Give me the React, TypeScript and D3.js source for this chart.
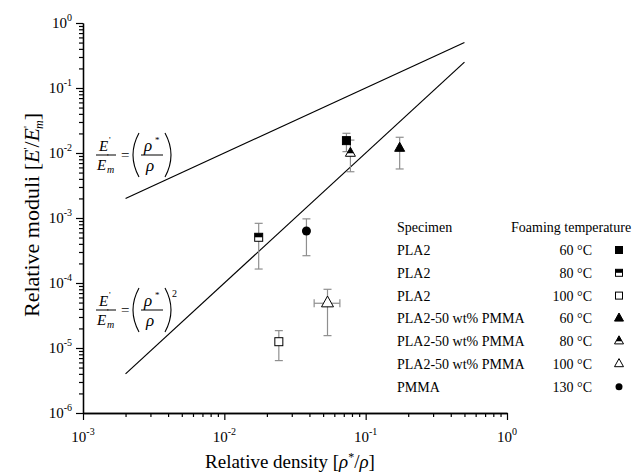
import React, { useRef, useEffect } from 'react';
import * as d3 from 'd3';

// legend / series
const specimens = ['PLA2', 'PLA2', 'PLA2', 'PLA2-50 wt% PMMA', 'PLA2-50 wt% PMMA', 'PLA2-50 wt% PMMA', 'PMMA'];
const temperatures = ['60 °C', '80 °C', '100 °C', '60 °C', '80 °C', '100 °C', '130 °C'];
const markers = ['square', 'squareHalf', 'squareOpen', 'triangle', 'triangleHalf', 'triangleOpen', 'circle'];

// relative density (x) and relative moduli (y) with error bars
const density = [0.0731, 0.0175, 0.0243, 0.174, 0.078, 0.0537, 0.0381];
const densityLow = [null, null, null, null, null, 0.0432, null];
const densityHigh = [null, null, null, null, null, 0.0657, null];
const moduli = [0.0155, 5.05e-4, 1.25e-5, 0.0118, 0.0099, 4.88e-5, 6.3e-4];
const moduliLow = [0.0105, 1.64e-4, 6.4e-6, 0.00568, 0.00515, 1.55e-5, 2.63e-4];
const moduliHigh = [0.0201, 8.28e-4, 1.85e-5, 0.01746, 0.0158, 8.0e-5, 9.7e-4];

// model lines
const modelDensity = [0.002, 0.5];
const linearModel = [0.002, 0.5];
const quadraticModel = [4e-6, 0.25];

// ticks
const xMajor = [1e-3, 1e-2, 1e-1, 1];
const yMajor = [1e-6, 1e-5, 1e-4, 1e-3, 1e-2, 1e-1, 1];
const minorSteps = [2, 3, 4, 5, 6, 7, 8, 9];

const font = '"Liberation Serif", "Times New Roman", serif';

function drawMarker(g, type, cx, cy, s) {
  if (type.startsWith('square')) {
    g.append('rect').attr('x', cx - s / 2).attr('y', cy - s / 2).attr('width', s).attr('height', s)
      .attr('fill', type === 'square' ? 'black' : 'white').attr('stroke', 'black').attr('stroke-width', 1);
    if (type === 'squareHalf') {
      g.append('rect').attr('x', cx - s / 2).attr('y', cy - s / 2).attr('width', s).attr('height', s / 2).attr('fill', 'black');
    }
  } else if (type.startsWith('triangle')) {
    const h = s * 0.9;
    const pts = [[cx, cy - h * 2 / 3], [cx + s / 2, cy + h / 3], [cx - s / 2, cy + h / 3]];
    g.append('polygon').attr('points', pts.map(p => p.join(',')).join(' '))
      .attr('fill', type === 'triangle' ? 'black' : 'white').attr('stroke', 'black').attr('stroke-width', 1);
    if (type === 'triangleHalf') {
      const f = 2 / 3;
      const half = [[cx, cy - h * 2 / 3], [cx + s / 2 * f, cy], [cx - s / 2 * f, cy]];
      g.append('polygon').attr('points', half.map(p => p.join(',')).join(' ')).attr('fill', 'black');
    }
  } else {
    g.append('circle').attr('cx', cx).attr('cy', cy).attr('r', s / 2).attr('fill', 'black');
  }
}

function drawEquation(g, x0, cy, squared) {
  const t = (tx, ty, txt, size, italic) => g.append('text').attr('x', tx).attr('y', ty)
    .attr('font-family', font).attr('font-size', size).attr('font-style', italic ? 'italic' : 'normal').text(txt);
  // E'/E'm
  t(x0 + 3, cy - 4, 'E', 15, true);
  t(x0 + 13, cy - 12, "'", 9, false);
  g.append('line').attr('x1', x0).attr('x2', x0 + 20).attr('y1', cy).attr('y2', cy).attr('stroke', 'black');
  t(x0 + 1, cy + 15, 'E', 15, true);
  t(x0 + 11, cy + 5, "'", 9, false);
  t(x0 + 11, cy + 18, 'm', 10, true);
  t(x0 + 25, cy + 5, '=', 15, false);
  // parentheses
  const paren = (px, dir) => g.append('path')
    .attr('d', `M${px},${cy - 22} Q${px - dir * 12},${cy} ${px},${cy + 22}`)
    .attr('fill', 'none').attr('stroke', 'black').attr('stroke-width', 1.1);
  paren(x0 + 43, 1);
  paren(x0 + 69, -1);
  // rho*/rho
  t(x0 + 48, cy - 4, 'ρ', 17, true);
  t(x0 + 59, cy - 12, '*', 9, false);
  g.append('line').attr('x1', x0 + 45).attr('x2', x0 + 67).attr('y1', cy).attr('y2', cy).attr('stroke', 'black');
  t(x0 + 50, cy + 16, 'ρ', 17, true);
  if (squared) t(x0 + 76, cy - 13, '2', 10, false);
}

const App = () => {
  const ref = useRef(null);

  useEffect(() => {
    const svg = d3.select(ref.current)
      .attr('width', 632)
      .attr('height', 472)
      .style('background-color', 'white');

    svg.selectAll('*').remove();

    const x = d3.scaleLog().domain([1e-3, 1]).range([83, 507]);
    const y = d3.scaleLog().domain([1e-6, 1]).range([413, 23]);

    const xMinor = xMajor.slice(0, -1).flatMap(d => minorSteps.map(k => k * d));
    const yMinor = yMajor.slice(0, -1).flatMap(d => minorSteps.map(k => k * d));

    // axes
    const axisStyle = (g) => {
      g.selectAll('path').attr('stroke', 'black').attr('stroke-width', 1.3);
      g.selectAll('line').attr('stroke', 'black').attr('stroke-width', 1.2);
      g.selectAll('text').remove();
    };
    svg.append('g').attr('transform', 'translate(0,413)')
      .call(d3.axisBottom(x).tickValues(xMinor).tickSize(4).tickSizeOuter(0)).call(axisStyle);
    svg.append('g').attr('transform', 'translate(0,413)')
      .call(d3.axisBottom(x).tickValues(xMajor).tickSize(7).tickSizeOuter(0)).call(axisStyle);
    svg.append('g').attr('transform', 'translate(83,0)')
      .call(d3.axisLeft(y).tickValues(yMinor).tickSize(4).tickSizeOuter(0)).call(axisStyle);
    svg.append('g').attr('transform', 'translate(83,0)')
      .call(d3.axisLeft(y).tickValues(yMajor).tickSize(7).tickSizeOuter(0)).call(axisStyle);

    // tick labels 10^n
    const pow = (sel) => sel.each(function (d) {
      const t = d3.select(this);
      t.append('tspan').text('10');
      t.append('tspan').attr('dy', -7).attr('font-size', 10).text(String(Math.round(Math.log10(d))));
    });
    svg.append('g').selectAll('text').data(yMajor).join('text')
      .attr('x', 72).attr('y', d => y(d) + 5)
      .attr('text-anchor', 'end').attr('font-family', font).attr('font-size', 15)
      .call(pow);
    svg.append('g').selectAll('text').data(xMajor).join('text')
      .attr('x', d => x(d)).attr('y', 442)
      .attr('text-anchor', 'middle').attr('font-family', font).attr('font-size', 15)
      .call(pow);

    // axis titles
    const xt = svg.append('text').attr('x', 290).attr('y', 468).attr('text-anchor', 'middle')
      .attr('font-family', font).attr('font-size', 19);
    xt.append('tspan').text('Relative density [');
    xt.append('tspan').attr('font-style', 'italic').text('ρ');
    xt.append('tspan').attr('dy', -7).attr('font-size', 12).text('*');
    xt.append('tspan').attr('dy', 7).text('/');
    xt.append('tspan').attr('font-style', 'italic').text('ρ');
    xt.append('tspan').text(']');

    const yt = svg.append('text').attr('transform', 'translate(39,215) rotate(-90)').attr('text-anchor', 'middle')
      .attr('font-family', font).attr('font-size', 22);
    yt.append('tspan').text('Relative moduli [');
    yt.append('tspan').attr('font-style', 'italic').text('E');
    yt.append('tspan').attr('dy', -8).attr('font-size', 11).text("'");
    yt.append('tspan').attr('dy', 8).text('/');
    yt.append('tspan').attr('font-style', 'italic').text('E');
    yt.append('tspan').attr('dy', -8).attr('font-size', 11).text("'");
    yt.append('tspan').attr('dy', 12).attr('dx', -3).attr('font-size', 12).attr('font-style', 'italic').text('m');
    yt.append('tspan').attr('dy', -4).text(']');

    // model lines
    const line = d3.line().x(d => x(d[0])).y(d => y(d[1]));
    [linearModel, quadraticModel].forEach(m => {
      svg.append('path').datum(modelDensity.map((d, i) => [d, m[i]]))
        .attr('d', line).attr('fill', 'none').attr('stroke', 'black').attr('stroke-width', 1.2);
    });

    // equations
    drawEquation(svg.append('g'), 96, 155, false);
    drawEquation(svg.append('g'), 96, 310, true);

    // error bars
    const eb = svg.append('g').attr('stroke', '#8f8f8f').attr('stroke-width', 1.2);
    density.forEach((d, i) => {
      const cx = x(d);
      eb.append('line').attr('x1', cx).attr('x2', cx).attr('y1', y(moduliLow[i])).attr('y2', y(moduliHigh[i]));
      [moduliLow[i], moduliHigh[i]].forEach(v => {
        eb.append('line').attr('x1', cx - 4).attr('x2', cx + 4).attr('y1', y(v)).attr('y2', y(v));
      });
      if (densityLow[i] != null) {
        const cy = y(moduli[i]);
        eb.append('line').attr('x1', x(densityLow[i])).attr('x2', x(densityHigh[i])).attr('y1', cy).attr('y2', cy);
        [densityLow[i], densityHigh[i]].forEach(v => {
          eb.append('line').attr('x1', x(v)).attr('x2', x(v)).attr('y1', cy - 4).attr('y2', cy + 4);
        });
      }
    });

    // points
    const pts = svg.append('g');
    density.forEach((d, i) => {
      const size = markers[i].startsWith('triangle') ? (markers[i] === 'triangleOpen' ? 12 : 10) : markers[i] === 'circle' ? 9 : 8;
      drawMarker(pts, markers[i], x(d), y(moduli[i]), size);
    });

    // legend
    const lg = svg.append('g').attr('font-family', font).attr('font-size', 14);
    lg.append('text').attr('x', 397).attr('y', 232).text('Specimen');
    lg.append('text').attr('x', 511).attr('y', 232).text('Foaming temperature');
    specimens.forEach((s, i) => {
      const cy = 250 + i * 22.8;
      lg.append('text').attr('x', 397).attr('y', cy + 5).text(s);
      lg.append('text').attr('x', 592).attr('y', cy + 5).attr('text-anchor', 'end').text(temperatures[i]);
      const size = markers[i].startsWith('triangle') ? 9 : 7;
      drawMarker(lg, markers[i], 619, cy, size);
    });
  }, []);

  return (
    <div style={{ position: 'fixed', left: 0, top: 0 }}>
      <svg ref={ref}></svg>
    </div>
  );
};

export default App;
